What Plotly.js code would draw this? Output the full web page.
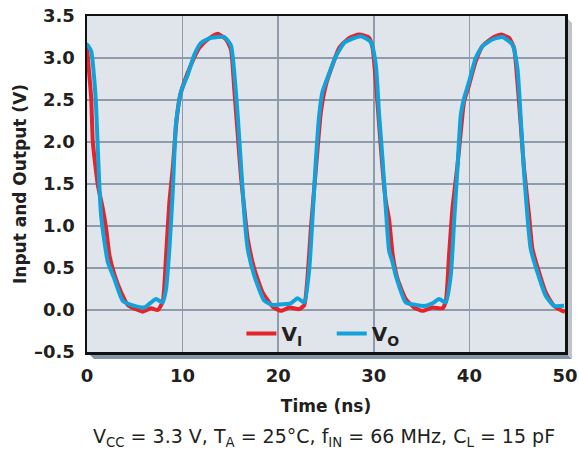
<!DOCTYPE html>
<html>
<head>
<meta charset="utf-8">
<script src="https://cdn.plot.ly/plotly-3.0.1.min.js"></script>
<style>
html, body { margin: 0; padding: 0; background: #ffffff; }
#chart { width: 579px; height: 449px; }
</style>
</head>
<body>
<div id="chart"></div>
<script>
// Input waveform V_I (time in ns, voltage in V)
const tVI = [0, 0.44, 0.61, 1.13, 1.65, 2.0, 2.35, 2.87, 3.57, 4.27, 5.31, 5.83, 6.7, 7.4, 7.92, 8.27, 8.62, 8.97, 9.32, 9.67, 10.19, 10.88, 11.75, 12.63, 13.67, 14.54, 15.06, 15.41, 15.76, 16.11, 16.46, 16.81, 17.5, 18.37, 19.42, 20.29, 21.16, 22.2, 22.73, 23.08, 23.42, 23.77, 24.12, 24.47, 24.99, 25.69, 26.38, 27.43, 28.48, 29.52, 29.87, 30.21, 30.56, 30.91, 31.26, 31.61, 31.96, 32.48, 33.35, 34.22, 35.09, 36.14, 37.18, 37.53, 37.87, 38.22, 38.75, 39.1, 39.44, 39.97, 40.66, 41.36, 42.4, 43.27, 44.14, 44.67, 45.02, 45.37, 45.71, 46.24, 46.59, 47.28, 47.98, 48.85, 49.72, 50.0];
const vVI = [3.12, 2.52, 2.0, 1.49, 1.21, 0.97, 0.65, 0.42, 0.21, 0.06, 0.0, -0.02, 0.02, 0.0, 0.1, 0.65, 1.29, 1.69, 2.2, 2.52, 2.72, 2.92, 3.12, 3.22, 3.29, 3.22, 3.1, 2.62, 2.1, 1.58, 1.2, 0.85, 0.49, 0.21, 0.04, -0.01, 0.03, 0.01, 0.06, 0.41, 0.97, 1.45, 1.92, 2.36, 2.68, 2.92, 3.12, 3.24, 3.28, 3.24, 3.12, 2.72, 2.2, 1.69, 1.29, 1.07, 0.67, 0.37, 0.13, 0.03, -0.01, 0.03, 0.02, 0.1, 0.65, 1.2, 1.72, 2.12, 2.48, 2.68, 2.96, 3.14, 3.24, 3.28, 3.24, 3.12, 2.72, 2.2, 1.69, 1.13, 0.73, 0.45, 0.21, 0.05, -0.01, -0.02];

// Output waveform V_O
const tVO = [0, 0.02, 0.44, 0.78, 0.96, 1.13, 1.31, 1.48, 1.83, 2.18, 2.87, 3.74, 4.96, 6.01, 6.7, 7.23, 7.92, 8.27, 8.62, 8.97, 9.32, 9.84, 10.54, 11.23, 11.93, 12.97, 14.37, 15.06, 15.41, 15.76, 16.11, 16.46, 16.81, 17.5, 18.55, 19.42, 20.64, 21.33, 22.03, 22.73, 23.25, 23.6, 23.95, 24.29, 24.64, 25.34, 26.03, 26.91, 27.78, 28.65, 29.69, 30.21, 30.56, 30.91, 31.26, 31.61, 31.96, 32.3, 33.35, 34.4, 35.44, 36.14, 36.83, 37.53, 38.05, 38.4, 38.75, 39.1, 39.44, 39.97, 40.66, 41.36, 42.4, 43.45, 44.49, 45.02, 45.37, 45.71, 46.06, 46.41, 47.11, 47.98, 48.85, 49.9];
const vVO = [3.12, 3.16, 3.08, 2.72, 2.4, 1.92, 1.44, 1.12, 0.81, 0.57, 0.37, 0.11, 0.05, 0.03, 0.09, 0.13, 0.09, 0.25, 0.73, 1.41, 2.24, 2.6, 2.8, 3.04, 3.18, 3.24, 3.25, 3.15, 2.82, 2.32, 1.72, 1.13, 0.73, 0.41, 0.11, 0.06, 0.07, 0.08, 0.14, 0.09, 0.49, 1.12, 1.8, 2.32, 2.6, 2.82, 3.02, 3.18, 3.23, 3.26, 3.19, 2.92, 2.32, 1.8, 1.2, 0.7, 0.57, 0.41, 0.09, 0.06, 0.05, 0.08, 0.13, 0.09, 0.41, 1.05, 1.69, 2.32, 2.52, 2.72, 3.0, 3.14, 3.22, 3.25, 3.16, 2.88, 2.28, 1.65, 1.13, 0.73, 0.45, 0.17, 0.05, 0.05];

const seriesNames = ['V<sub>I</sub>', 'V<sub>O</sub>'];
const seriesColors = ['#e3252b', '#12a1d9'];

const xTickVals = [0, 10, 20, 30, 40, 50];
const xTickText = ['0', '10', '20', '30', '40', '50'];
const yTickVals = [-0.5, 0, 0.5, 1, 1.5, 2, 2.5, 3, 3.5];
const yTickText = ['\u20130.5', '0.0', '0.5', '1.0', '1.5', '2.0', '2.5', '3.0', '3.5'];

const xTitle = 'Time (ns)';
const yTitle = 'Input and Output (V)';
const note = 'V<sub>CC</sub> = 3.3 V, T<sub>A</sub> = 25\u00B0C, f<sub>IN</sub> = 66 MHz, C<sub>L</sub> = 15 pF';

const tickFont = { family: 'DejaVu Sans, sans-serif', size: 18, color: '#231f20', weight: 'bold' };
const titleFont = { family: 'DejaVu Sans, sans-serif', size: 17, color: '#231f20', weight: 'bold' };
const legendFont = { family: 'DejaVu Sans, sans-serif', size: 20, color: '#231f20', weight: 'bold' };

const traces = [
  { x: tVI, y: vVI, name: seriesNames[0], type: 'scatter', mode: 'lines', legend: 'legend',
    line: { color: seriesColors[0], width: 4, shape: 'spline', smoothing: 0.5 } },
  { x: tVO, y: vVO, name: seriesNames[1], type: 'scatter', mode: 'lines', legend: 'legend2',
    line: { color: seriesColors[1], width: 4, shape: 'spline', smoothing: 0.5 } }
];

const dx = 7 / 478, dy = 7 / 336;

const legendBase = {
  orientation: 'h', y: 0.055, xanchor: 'left', yanchor: 'middle',
  bgcolor: 'rgba(0,0,0,0)', font: legendFont, itemwidth: 30
};

const layout = {
  width: 579, height: 449,
  margin: { l: 87, r: 14, t: 16, b: 97 },
  paper_bgcolor: '#ffffff',
  plot_bgcolor: '#dfe5ea',
  showlegend: true,
  legend: Object.assign({}, legendBase, { x: 0.323 }),
  legend2: Object.assign({}, legendBase, { x: 0.512 }),
  xaxis: {
    range: [0, 50], tickvals: xTickVals, ticktext: xTickText,
    showgrid: true, gridcolor: '#8e9baa', gridwidth: 1.5,
    showline: true, linecolor: '#111111', linewidth: 2.5, mirror: true,
    ticks: 'outside', ticklen: 6, tickcolor: 'rgba(0,0,0,0)',
    tickfont: tickFont, zeroline: false,
    title: { text: xTitle, font: titleFont, standoff: 15 }
  },
  yaxis: {
    range: [-0.5, 3.5], tickvals: yTickVals, ticktext: yTickText,
    showgrid: true, gridcolor: '#8e9baa', gridwidth: 1.5,
    showline: true, linecolor: '#111111', linewidth: 2.5, mirror: true,
    ticks: 'outside', ticklen: 6, tickcolor: 'rgba(0,0,0,0)',
    tickfont: tickFont, zeroline: false,
    title: { text: yTitle, font: titleFont, standoff: 3 }
  },
  shapes: [
    { type: 'path', xref: 'paper', yref: 'paper', layer: 'below',
      path: `M 0,0 L 1,0 L ${1 + dx},${-dy} L ${dx},${-dy} Z`,
      fillcolor: '#8796a6', line: { width: 0 } },
    { type: 'path', xref: 'paper', yref: 'paper', layer: 'below',
      path: `M 1,1 L ${1 + dx},${1 - dy} L ${1 + dx},${-dy} L 1,0 Z`,
      fillcolor: '#bcc3cb', line: { width: 0 } }
  ],
  annotations: [
    { text: note, xref: 'paper', yref: 'paper', x: 0.496, y: -0.253,
      xanchor: 'center', yanchor: 'middle', showarrow: false,
      font: { family: 'DejaVu Sans, sans-serif', size: 19, color: '#231f20' } }
  ]
};

Plotly.newPlot('chart', traces, layout, { staticPlot: true, displayModeBar: false });
</script>
</body>
</html>
